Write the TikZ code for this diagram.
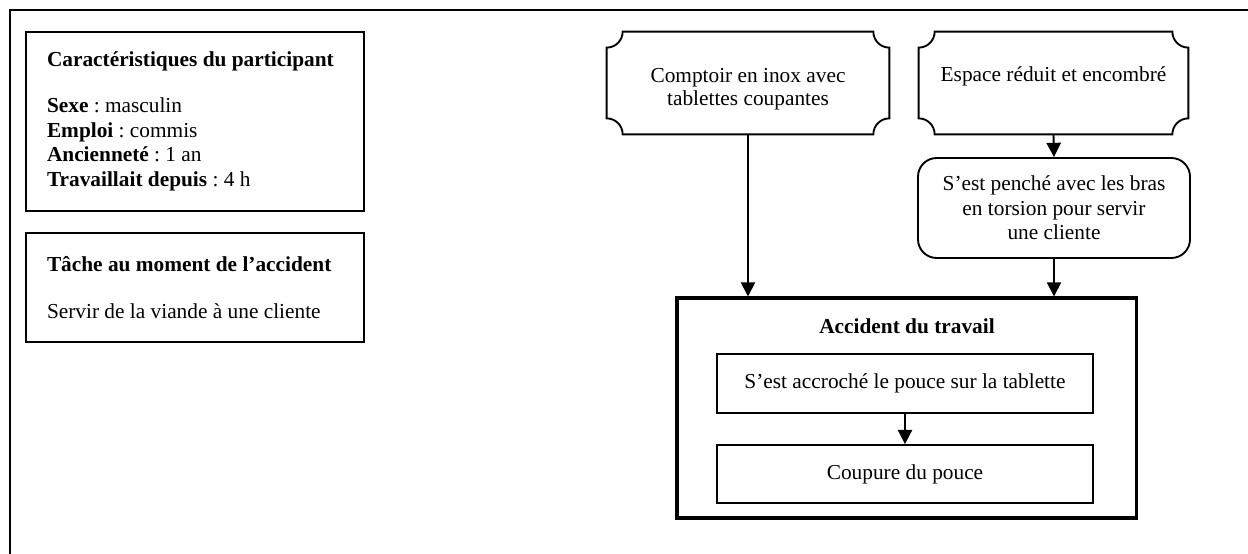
\documentclass[tikz,border=0pt]{standalone}
\usepackage{fontspec}
\setmainfont{Liberation Serif}
\usetikzlibrary{arrows.meta,calc}

% Box with concave (scooped) corners drawn around a named node
\newcommand\drawplaque[2][9pt]{%
  \draw[boxline]
    ([xshift=#1]#2.north west) -- ([xshift=-#1]#2.north east)
    arc[start angle=180,end angle=270,radius=#1]
    -- ([yshift=#1]#2.south east)
    arc[start angle=90,end angle=180,radius=#1]
    -- ([xshift=#1]#2.south west)
    arc[start angle=0,end angle=90,radius=#1]
    -- ([yshift=-#1]#2.north west)
    arc[start angle=270,end angle=360,radius=#1]
    -- cycle;}
% extra room above the first line of a plaque
\newcommand\topgap{\rule{0pt}{15pt}}

\begin{document}
\frenchspacing
\begin{tikzpicture}[x=0.5625pt,y=0.5625pt,
  font=\fontsize{12}{13.8}\selectfont\frenchspacing,
  boxline/.style={line width=1.05pt},
  plainbox/.style={draw, boxline, rectangle, inner sep=0pt, align=center},
  infobox/.style={draw, boxline, rectangle, inner xsep=11.8pt, inner ysep=0pt,
    align=flush left, text width=166.5pt},
  plaquebox/.style={rectangle, inner sep=0pt, align=center,
    minimum height=57.4pt, font=\fontsize{12}{13}\selectfont},
  arr/.style={boxline, -{Triangle[length=8pt,width=8pt]}},
]
\useasboundingbox (0,0) rectangle (1248,-554);

% page frame
\draw[line width=0.95pt] (1248,-10) -- (10,-10) -- (10,-554);

% left column: participant and task
\node[infobox, minimum height=100.7pt] (part) at (195,-121.5)
  {\textbf{Caractéristiques du participant}\\[12pt]
   \textbf{Sexe} : masculin\\
   \textbf{Emploi} : commis\\
   \textbf{Ancienneté} : 1 an\\
   \textbf{Travaillait depuis} : 4 h};
\node[infobox, minimum height=61.3pt] (task) at (195,-287.5)
  {\textbf{Tâche au moment de l’accident}\\[12.6pt]
   Servir de la viande à une cliente};

% contributing factors
\node[plaquebox, minimum width=158.6pt] (cpt) at (748,-83)
  {\topgap Comptoir en inox avec\\tablettes coupantes};
\drawplaque{cpt}
\node[plaquebox, minimum width=151.3pt] (esp) at (1053.5,-83)
  {\topgap Espace réduit et encombré\\\strut};
\drawplaque{esp}

\node[plainbox, rounded corners=10.5pt, minimum width=153pt,
  minimum height=56.25pt] (penche) at (1054,-208)
  {S’est penché avec les bras\\en torsion pour servir\\une cliente};

% accident
\node[draw, line width=1.7pt, rectangle, minimum width=258.2pt,
  minimum height=123.75pt] (acc) at (906.5,-408) {};
\node (accTitle) at (907,-326) {\textbf{Accident du travail}};
\node[plainbox, minimum width=211.5pt, minimum height=33.2pt] (acc1)
  at (905,-383.5) {S’est accroché le pouce sur la tablette};
\node[plainbox, minimum width=211.5pt, minimum height=32.6pt] (acc2)
  at (905,-474) {Coupure du pouce};

% connectors
\draw[arr] (cpt.south) -- (cpt.south |- acc.north);
\draw[arr] (esp.south) -- (penche.north);
\draw[arr] (penche.south) -- (penche.south |- acc.north);
\draw[arr] (acc1.south) -- (acc2.north);
\end{tikzpicture}
\end{document}
